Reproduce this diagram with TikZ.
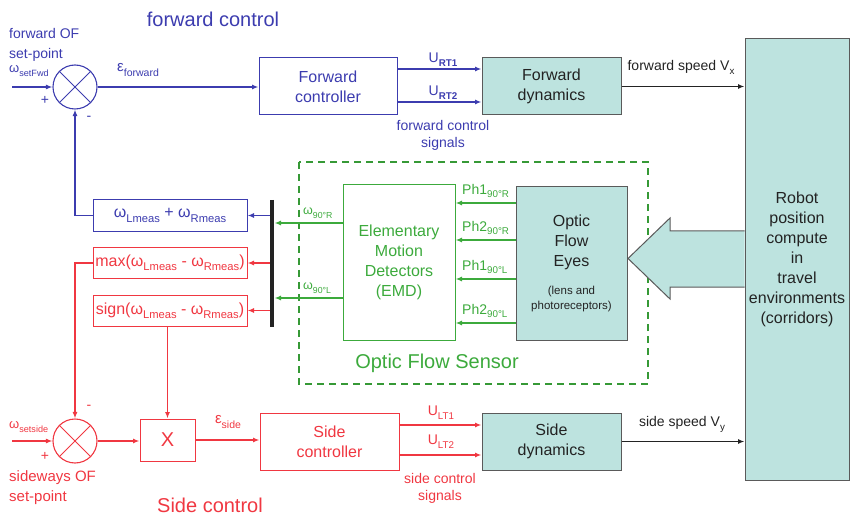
\documentclass[tikz,border=0pt]{standalone}
\usepackage{fontspec}
\setmainfont{Liberation Sans}
\usetikzlibrary{arrows.meta}
\definecolor{cB}{RGB}{60,60,175}
\definecolor{cR}{RGB}{240,55,65}
\definecolor{cG}{RGB}{60,170,60}
\definecolor{cT}{RGB}{189,227,223}
\definecolor{cK}{RGB}{35,35,35}
\makeatletter
\newcommand\sbs[1]{\raisebox{-0.28em}{\check@mathfonts\fontsize\sf@size\z@\selectfont #1}}
\makeatother
\begin{document}
\begin{tikzpicture}[x=1pt,y=-1pt,
  >={Latex[length=6.5pt,width=5pt]},
  box/.style={draw,rectangle,inner sep=0pt,align=center,font=\fontsize{16}{20}\selectfont,line width=1pt},
  tbox/.style={box,fill=cT,draw=cK!75,text=cK},
  sumc/.style={draw,circle,minimum size=44pt,inner sep=0pt,line width=1.1pt},
  lbl/.style={inner sep=0pt,align=center,font=\fontsize{14}{18}\selectfont},
  small/.style={inner sep=0pt,font=\fontsize{13}{16}\selectfont},
  conn/.style={line width=1.4pt,->},
  ttl/.style={inner sep=0pt,font=\fontsize{20}{24}\selectfont}
]
\useasboundingbox (0,0) rectangle (850,526);

% ---------- forward loop ----------
\node[ttl,cB] (ftitle) at (213,19) {forward control};
\node[lbl,cB,anchor=west,align=left,font=\fontsize{14}{20}\selectfont] (fop) at (9,45) {forward OF\\set-point};
\node[small,cB,anchor=west] (wfwd) at (9,71) {ω\sbs{setFwd}};
\node[sumc,cB] (fsum) at (75,87) {};
\draw[cB,line width=1pt] (fsum.north east) -- (fsum.south west) (fsum.north west) -- (fsum.south east);
\coordinate (fin) at (12,87);
\node[lbl,cB] (fplus) at (45,100) {+};
\node[lbl,cB] (fminus) at (89,118) {-};
\node[lbl,cB,anchor=west,font=\fontsize{15}{18}\selectfont] (efwd) at (117,70) {ε\sbs{forward}};

\node[box,cB,minimum width=138pt,minimum height=57pt] (fctrl) at (328,86.5) {Forward\\controller};
\node[tbox,minimum width=139pt,minimum height=57pt] (fdyn) at (551.5,86.5) {Forward\\dynamics};
\node[tbox,minimum width=104pt,minimum height=441pt] (robot) at (797,259.5) {Robot\\position\\compute\\in\\travel\\environments\\(corridors)};

\node[lbl,cB] (urt1) at (443,60) {U\sbs{\textbf{RT1}}};
\node[lbl,cB] (urt2) at (443,93) {U\sbs{\textbf{RT2}}};
\node[lbl,cB,font=\fontsize{14}{17}\selectfont] (fcs) at (443,135) {forward control\\signals};
\node[lbl,cK] (fspd) at (681,67) {forward speed V\sbs{x}};

\draw[conn,cB] (fin) -- (fsum.west);
\draw[conn,cB] (fsum.east) -- (fctrl.west |- fsum.east);
\draw[conn,cB] (fctrl.east |- 0,69) -- (fdyn.west |- 0,69);
\draw[conn,cB] (fctrl.east |- 0,102) -- (fdyn.west |- 0,102);
\draw[conn,cK] (fdyn.east) -- (robot.west |- fdyn.east);

% ---------- measurement boxes ----------
\node[box,cB,minimum width=154pt,minimum height=32pt] (fbk) at (170,215.5) {ω\sbs{Lmeas} + ω\sbs{Rmeas}};
\node[box,cR,minimum width=154pt,minimum height=31pt] (maxb) at (170,263) {max(ω\sbs{Lmeas} - ω\sbs{Rmeas})};
\node[box,cR,minimum width=154pt,minimum height=31pt] (signb) at (170,310.5) {sign(ω\sbs{Lmeas} - ω\sbs{Rmeas})};
\coordinate (bt) at (272,200);
\coordinate (bb) at (272,327);

\draw[conn,cB] (fbk.east -| bt) -- (fbk.east);
\draw[conn,cR] (maxb.east -| bt) -- (maxb.east);
\draw[conn,cR] (signb.east -| bt) -- (signb.east);
\draw[conn,cB] (fbk.west) -| (fsum.south);

% ---------- optic flow sensor ----------
\draw[cG!90!black,dash pattern=on 7pt off 5pt,line width=1.8pt] (299,162) rectangle (648,384);
\node[ttl,cG] (ofs) at (437,363) {Optic Flow Sensor};
\node[box,cG,minimum width=112pt,minimum height=155pt] (emd) at (399,262.5) {Elementary\\Motion\\Detectors\\(EMD)};
\node[tbox,minimum width=111pt,minimum height=153pt] (eyes) at (571.5,263.5) {Optic\\Flow\\Eyes\\[8pt]{\fontsize{11.5}{14}\selectfont (lens and}\\[-5pt]{\fontsize{11.5}{14}\selectfont photoreceptors)}};

\draw[conn,cG] (eyes.west |- 0,203) -- (emd.east |- 0,203);
\draw[conn,cG] (eyes.west |- 0,240) -- (emd.east |- 0,240);
\draw[conn,cG] (eyes.west |- 0,279) -- (emd.east |- 0,279);
\draw[conn,cG] (eyes.west |- 0,323) -- (emd.east |- 0,323);
\node[lbl,cG,anchor=west] (p1r) at (462,191) {Ph1\sbs{90°R}};
\node[lbl,cG,anchor=west] (p2r) at (462,228) {Ph2\sbs{90°R}};
\node[lbl,cG,anchor=west] (p1l) at (462,267) {Ph1\sbs{90°L}};
\node[lbl,cG,anchor=west] (p2l) at (462,311) {Ph2\sbs{90°L}};

\draw[conn,cG,shorten >=2.5pt] (emd.west |- 0,223) -- (bt |- 0,223);
\draw[conn,cG,shorten >=2.5pt] (emd.west |- 0,298) -- (bt |- 0,298);
\node[small,cG,anchor=west,font=\fontsize{12.5}{14}\selectfont] (w90r) at (303,213) {ω\sbs{90°R}};
\node[small,cG,anchor=west,font=\fontsize{12.5}{14}\selectfont] (w90l) at (303,288) {ω\sbs{90°L}};

\draw[line width=4pt,cK] (bt) -- (bb);

% big arrow from robot to eyes
\draw[fill=cT,draw=cK!75,line width=1pt] (robot.west |- 0,231) -- (670,231) -- (670,218) -- (628,258.5) -- (670,299) -- (670,287) -- (robot.west |- 0,287);

% ---------- side loop ----------
\node[sumc,cR] (ssum) at (75,441) {};
\draw[cR,line width=1pt] (ssum.north east) -- (ssum.south west) (ssum.north west) -- (ssum.south east);
\coordinate (sin) at (12,441);
\node[small,cR,anchor=west] (wside) at (9,427) {ω\sbs{setside}};
\node[lbl,cR] (splus) at (45,456) {+};
\node[lbl,cR] (sminus) at (89,407) {-};
\node[lbl,cR,anchor=west,align=left,font=\fontsize{15}{20}\selectfont] (sop) at (9,487.5) {sideways OF\\set-point};
\node[ttl,cR] (stitle) at (210,505) {Side control};

\node[box,cR,minimum width=55pt,minimum height=42pt,font=\fontsize{20}{24}\selectfont] (xbox) at (167.5,440) {X};
\node[lbl,cR,font=\fontsize{15}{18}\selectfont] (eside) at (228,422) {ε\sbs{side}};
\node[box,cR,minimum width=139pt,minimum height=57pt] (sctrl) at (329.5,441.5) {Side\\controller};
\node[tbox,minimum width=139pt,minimum height=57pt] (sdyn) at (551.5,441.5) {Side\\dynamics};
\node[lbl,cR] (ult1) at (441,413) {U\sbs{LT1}};
\node[lbl,cR] (ult2) at (441,442) {U\sbs{LT2}};
\node[lbl,cR,font=\fontsize{14}{17}\selectfont] (scs) at (440,488) {side control\\signals};
\node[lbl,cK] (sspd) at (682,424) {side speed V\sbs{y}};

\draw[conn,cR] (sin) -- (ssum.west);
\draw[conn,cR] (maxb.west) -| (ssum.north);
\draw[conn,cR] (xbox.north |- signb.south) -- (xbox.north);
\draw[conn,cR] (ssum.east) -- (xbox.west |- ssum.east);
\draw[conn,cR] (xbox.east) -- (sctrl.west |- xbox.east);
\draw[conn,cR] (sctrl.east |- 0,425) -- (sdyn.west |- 0,425);
\draw[conn,cR] (sctrl.east |- 0,455) -- (sdyn.west |- 0,455);
\draw[conn,cK] (sdyn.east) -- (robot.west |- sdyn.east);
\end{tikzpicture}
\end{document}
